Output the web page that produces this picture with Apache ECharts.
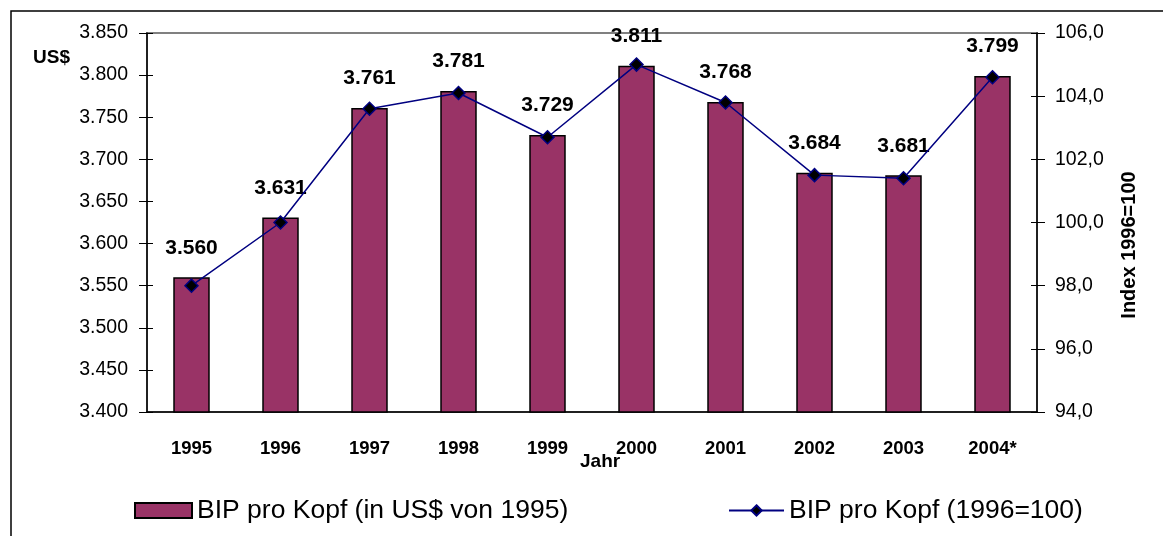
<!DOCTYPE html>
<html>
<head>
<meta charset="utf-8">
<script src="https://cdn.jsdelivr.net/npm/echarts@6/dist/echarts.min.js"></script>
<style>
  html, body { margin: 0; padding: 0; background: #fff; }
  #chart { width: 1163px; height: 536px; }
</style>
</head>
<body>
<div id="chart"></div>
<script>
// Daten
const years = ['1995', '1996', '1997', '1998', '1999', '2000', '2001', '2002', '2003', '2004*']
const bipUsd = [3560, 3631, 3761, 3781, 3729, 3811, 3768, 3684, 3681, 3799]
const bipIndex = [98.0, 100.0, 103.6, 104.1, 102.7, 105.0, 103.8, 101.5, 101.4, 104.6]
const leftTicks = { min: 3400, max: 3850, interval: 50 }
const rightTicks = { min: 94, max: 106, interval: 2 }

const font = 'Liberation Sans, Arial, sans-serif'
const fmtUsd = v => (v / 1000).toFixed(3)
const fmtIdx = v => v.toFixed(1).replace('.', ',')

const chart = echarts.init(document.getElementById('chart'))
chart.setOption({
  backgroundColor: '#fff',
  animation: false,
  grid: {
    left: 147, right: 126, top: 33, bottom: 124,
    show: true, borderColor: '#808080', borderWidth: 2,
  },
  graphic: [
    { type: 'rect', shape: { x: 11, y: 11, width: 1170, height: 560 }, style: { fill: 'none', stroke: '#000', lineWidth: 1.5 }, z: 100 },
    { type: 'text', left: 33, top: 48, style: { text: 'US$', font: 'bold 19px ' + font, fill: '#000' } },
    { type: 'text', left: 580, top: 452, style: { text: 'Jahr', font: 'bold 19px ' + font, fill: '#000' } },
    {
      type: 'text', x: 1129, y: 245, rotation: Math.PI / 2,
      style: { text: 'Index 1996=100', font: 'bold 20px ' + font, fill: '#000', align: 'center', verticalAlign: 'middle' },
    },
  ],
  legend: [
    {
      data: [{ name: 'BIP pro Kopf (in US$ von 1995)', icon: 'rect' }],
      left: 134, top: 497, padding: 0, itemWidth: 57, itemHeight: 15,
      textStyle: { fontFamily: font, fontSize: 26.5, color: '#000' },
    },
    {
      data: ['BIP pro Kopf (1996=100)'],
      left: 728, top: 497, padding: 0, itemWidth: 55, itemHeight: 13,
      textStyle: { fontFamily: font, fontSize: 26.5, color: '#000' },
    },
  ],
  xAxis: [
    {
      type: 'category',
      data: years,
      axisLine: { lineStyle: { color: '#000', width: 1.5 } },
      axisTick: { interval: 0, length: 8, lineStyle: { color: '#000' } },
      axisLabel: { interval: 0, margin: 27, color: '#000', fontFamily: font, fontWeight: 'bold', fontSize: 18.5 },
    },
    {
      type: 'category', position: 'bottom', data: years,
      axisLine: { show: false }, axisLabel: { show: false },
      axisTick: { interval: 0, inside: true, length: 7, lineStyle: { color: '#000' } },
    },
  ],
  yAxis: [
    {
      type: 'value', position: 'left', ...leftTicks,
      splitLine: { show: false },
      axisLine: { show: true, lineStyle: { color: '#000', width: 1.5 } },
      axisTick: { show: true, length: 8, lineStyle: { color: '#000' } },
      axisLabel: { margin: 19, color: '#000', fontFamily: font, fontSize: 19.5, formatter: fmtUsd },
    },
    {
      type: 'value', position: 'right', ...rightTicks,
      splitLine: { show: false },
      axisLine: { show: true, lineStyle: { color: '#000', width: 1.5 } },
      axisTick: { show: true, length: 8, lineStyle: { color: '#000' } },
      axisLabel: { margin: 18, color: '#000', fontFamily: font, fontSize: 19.5, formatter: fmtIdx },
    },
    {
      type: 'value', position: 'left', ...leftTicks,
      splitLine: { show: false }, axisLine: { show: false }, axisLabel: { show: false },
      axisTick: { show: true, inside: true, length: 6, lineStyle: { color: '#000' } },
    },
    {
      type: 'value', position: 'right', ...rightTicks,
      splitLine: { show: false }, axisLine: { show: false }, axisLabel: { show: false },
      axisTick: { show: true, inside: true, length: 6, lineStyle: { color: '#000' } },
    },
  ],
  series: [
    {
      name: 'BIP pro Kopf (in US$ von 1995)',
      type: 'bar',
      data: bipUsd,
      barWidth: '41%',
      itemStyle: { color: '#993366', borderColor: '#000', borderWidth: 1.5 },
      label: {
        show: true, position: 'top', distance: 19,
        color: '#000', fontFamily: font, fontWeight: 'bold', fontSize: 21,
        formatter: p => fmtUsd(p.value),
      },
    },
    {
      name: 'BIP pro Kopf (1996=100)',
      type: 'line',
      yAxisIndex: 1,
      data: bipIndex,
      symbol: 'diamond',
      symbolSize: 13,
      lineStyle: { color: '#000080', width: 1.5 },
      itemStyle: { color: '#000', borderColor: '#000080', borderWidth: 1.5 },
      z: 5,
    },
  ],
})
</script>
</body>
</html>
